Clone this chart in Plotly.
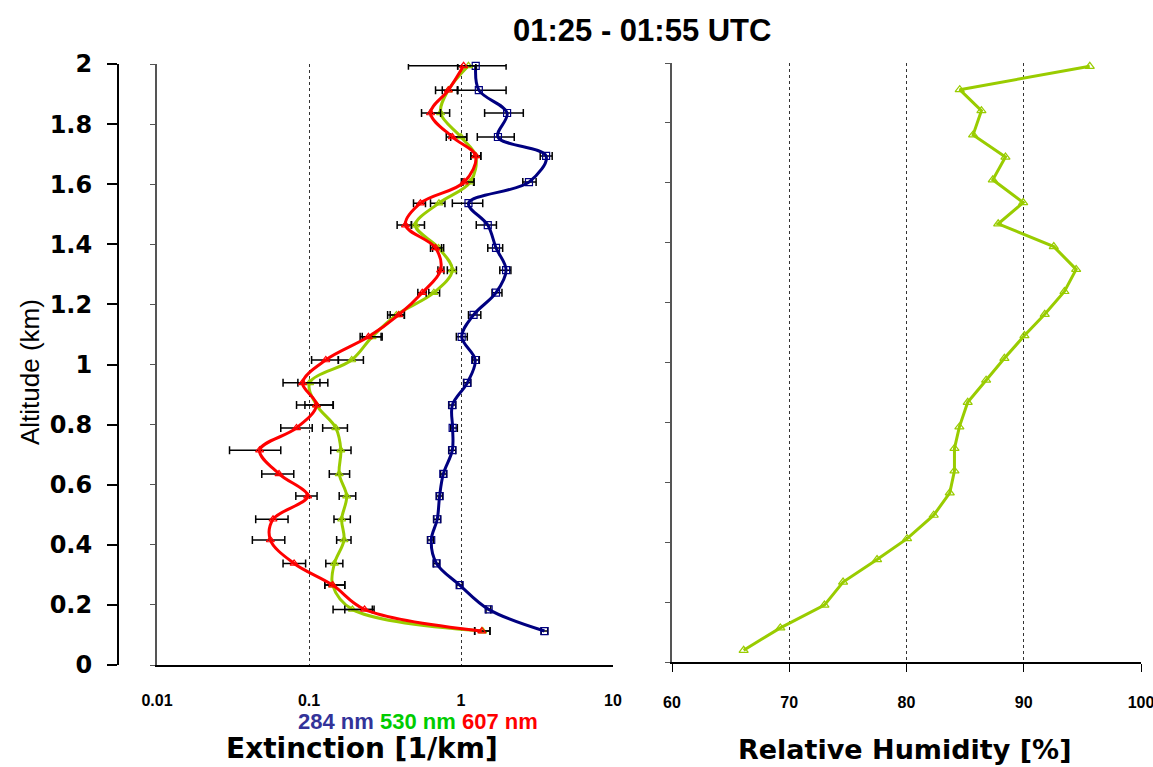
import plotly.graph_objects as go

# ---- Extinction profiles (left panel) ----
alt_ext = [0.113, 0.185, 0.266, 0.338, 0.416, 0.485, 0.562, 0.636, 0.715, 0.789,
           0.865, 0.939, 1.015, 1.092, 1.165, 1.239, 1.314, 1.388, 1.464, 1.537,
           1.607, 1.694, 1.757, 1.837, 1.913, 1.994]

ext_284 = [3.54, 1.52, 0.98, 0.69, 0.637, 0.698, 0.723, 0.765, 0.877, 0.881,
           0.877, 1.10, 1.24, 1.01, 1.21, 1.70, 1.98, 1.70, 1.50, 1.12,
           2.80, 3.63, 1.75, 2.01, 1.31, 1.25]
lo_284 = [3.37, 1.46, 0.937, 0.660, 0.602, 0.660, 0.690, 0.734, 0.830, 0.855,
          0.830, 1.04, 1.19, 0.932, 1.12, 1.60, 1.80, 1.50, 1.26, 0.877,
          2.55, 3.32, 1.28, 1.43, 0.951, 0.951]
hi_284 = [3.72, 1.57, 1.02, 0.723, 0.660, 0.734, 0.757, 0.804, 0.923, 0.946,
          0.923, 1.16, 1.32, 1.10, 1.35, 1.86, 2.13, 1.88, 1.71, 1.39,
          3.12, 3.98, 2.24, 2.57, 1.98, 1.98]

ext_530 = [1.39, 0.193, 0.143, 0.147, 0.170, 0.164, 0.177, 0.158, 0.162, 0.150,
           0.112, 0.101, 0.191, 0.260, 0.376, 0.663, 0.877, 0.712, 0.501, 0.716,
           1.15, 1.25, 1.00, 0.734, 0.826, 1.12]
lo_530 = [1.23, 0.144, 0.127, 0.129, 0.152, 0.146, 0.158, 0.136, 0.139, 0.123,
          0.094, 0.0845, 0.156, 0.224, 0.342, 0.614, 0.813, 0.650, 0.472, 0.630,
          1.03, 1.16, 0.855, 0.630, 0.753, 0.951]
hi_530 = [1.55, 0.261, 0.172, 0.167, 0.189, 0.187, 0.203, 0.185, 0.189, 0.179,
          0.144, 0.133, 0.228, 0.303, 0.424, 0.723, 0.933, 0.769, 0.575, 0.784,
          1.21, 1.35, 1.09, 0.842, 0.946, 1.25]

ext_607 = [1.37, 0.232, 0.143, 0.0798, 0.0557, 0.058, 0.098, 0.0635, 0.0473, 0.0828,
           0.112, 0.0907, 0.129, 0.246, 0.389, 0.556, 0.734, 0.680, 0.431, 0.541,
           1.05, 1.25, 0.877, 0.630, 0.826, 1.04]
lo_607 = [1.23, 0.172, 0.127, 0.0675, 0.0424, 0.0446, 0.0819, 0.0489, 0.030, 0.0652,
          0.0828, 0.0675, 0.104, 0.217, 0.329, 0.520, 0.705, 0.630, 0.380, 0.487,
          1.006, 1.16, 0.80, 0.55, 0.68, 0.451]
hi_607 = [1.55, 0.268, 0.172, 0.095, 0.0693, 0.0728, 0.113, 0.0794, 0.0652, 0.105,
          0.1445, 0.118, 0.156, 0.298, 0.424, 0.590, 0.772, 0.745, 0.472, 0.584,
          1.22, 1.35, 1.09, 0.734, 0.951, 1.25]

# ---- Relative humidity profile (right panel) ----
alt_rh = [0.039, 0.114, 0.190, 0.267, 0.342, 0.412, 0.490, 0.565, 0.638, 0.713,
          0.785, 0.867, 0.941, 1.014, 1.090, 1.161, 1.237, 1.311, 1.387, 1.463,
          1.534, 1.610, 1.686, 1.760, 1.841, 1.911, 1.989]
rh = [66.11, 69.24, 73.00, 74.59, 77.49, 80.05, 82.32, 83.69, 84.09, 84.09,
      84.51, 85.22, 86.79, 88.35, 90.06, 91.79, 93.47, 94.47, 92.56, 87.82,
      89.95, 87.36, 88.44, 85.68, 86.39, 84.54, 95.63]

# ---- Axis ticks ----
alt_ticks = [0, 0.2, 0.4, 0.6, 0.8, 1, 1.2, 1.4, 1.6, 1.8, 2]
alt_labels = ["0", "0.2", "0.4", "0.6", "0.8", "1", "1.2", "1.4", "1.6", "1.8", "2"]
ext_ticks = [0.01, 0.1, 1, 10]
ext_labels = ["0.01", "0.1", "1", "10"]
rh_ticks = [60, 70, 80, 90, 100]
rh_labels = ["60", "70", "80", "90", "100"]

W, H = 1153, 767
NARROW = "Liberation Sans Narrow, Arial Narrow, Liberation Sans, Arial"
SANS = "Liberation Sans, Arial, sans-serif"
WIDE = "DejaVu Sans, Liberation Sans, Arial"


def errs(val, lo, hi):
    plus = [h - v for v, h in zip(val, hi)]
    minus = [v - l for v, l in zip(val, lo)]
    return dict(type="data", symmetric=False, array=plus, arrayminus=minus,
                color="black", thickness=1.5, width=4)


fig = go.Figure()

series = [
    ("284 nm", ext_284, lo_284, hi_284, "#000080", "square-open"),
    ("530 nm", ext_530, lo_530, hi_530, "#99CC00", "triangle-up-open"),
    ("607 nm", ext_607, lo_607, hi_607, "#FF0000", "triangle-up-open"),
]
for name, val, lo, hi, col, sym in series:
    fig.add_trace(go.Scatter(
        x=val, y=alt_ext, name=name, mode="lines+markers",
        line=dict(color=col, width=3, shape="spline", smoothing=1.0),
        marker=dict(symbol=sym, size=7, color=col, line=dict(width=1.2, color=col)),
        error_x=errs(val, lo, hi),
        xaxis="x", yaxis="y", showlegend=False, cliponaxis=False,
    ))

fig.add_trace(go.Scatter(
    x=rh, y=alt_rh, name="RH", mode="lines+markers",
    line=dict(color="#99CC00", width=3),
    marker=dict(symbol="triangle-up-open", size=8, color="#99CC00",
                line=dict(width=1.2, color="#99CC00")),
    xaxis="x2", yaxis="y2", showlegend=False, cliponaxis=False,
))

# Altitude scale drawn on its own free axis left of the extinction panel
fig.add_trace(go.Scatter(
    x=[None], y=[None], xaxis="x", yaxis="y3", showlegend=False, hoverinfo="skip",
))

left_dom = [157 / W, 613 / W]
right_dom = [672 / W, 1141 / W]
yl_dom = [1 - 665 / H, 1 - 64 / H]
yr_dom = [1 - 662 / H, 1 - 63 / H]

tickfont_x = dict(family=NARROW, size=16, color="black", weight="bold")

fig.update_layout(
    width=W, height=H,
    margin=dict(l=0, r=0, t=0, b=0, pad=0, autoexpand=False),
    paper_bgcolor="white", plot_bgcolor="white",
    xaxis=dict(
        type="log", range=[-2, 1], domain=left_dom, anchor="y",
        showline=True, linecolor="black", linewidth=2,
        showgrid=True, gridcolor="#333333", gridwidth=1, griddash="dot",
        tickvals=ext_ticks, ticktext=ext_labels, ticks="",
        tickfont=tickfont_x, ticklabelstandoff=20, zeroline=False,
        automargin=False, ticklabeloverflow="allow",
    ),
    yaxis=dict(
        range=[0, 2], domain=yl_dom, anchor="x",
        showline=True, linecolor="#555555", linewidth=1.5,
        ticks="outside", ticklen=5, tickcolor="#555555",
        tickvals=alt_ticks, showticklabels=False,
        showgrid=False, zeroline=False, automargin=False,
    ),
    yaxis3=dict(
        range=[0, 2], domain=yl_dom, overlaying="y", anchor="free",
        position=118 / W, side="left",
        showline=True, linecolor="black", linewidth=2,
        ticks="outside", ticklen=10, tickcolor="black", tickwidth=1.5,
        tickvals=alt_ticks, ticktext=alt_labels,
        tickfont=dict(family=WIDE, size=24, color="black", weight="bold"),
        ticklabelstandoff=10, showgrid=False, zeroline=False, automargin=False,
    ),
    xaxis2=dict(
        range=[60, 100], domain=right_dom, anchor="y2",
        showline=True, linecolor="black", linewidth=2,
        ticks="outside", ticklen=8, tickcolor="black",
        showgrid=True, gridcolor="#333333", gridwidth=1, griddash="dot",
        tickvals=rh_ticks, ticktext=rh_labels,
        tickfont=tickfont_x, ticklabelstandoff=17, zeroline=False,
        automargin=False, ticklabeloverflow="allow",
    ),
    yaxis2=dict(
        range=[0, 2], domain=yr_dom, anchor="x2",
        showline=True, linecolor="#555555", linewidth=1.5,
        ticks="outside", ticklen=5, tickcolor="#555555",
        tickvals=alt_ticks, showticklabels=False,
        showgrid=False, zeroline=False, automargin=False,
    ),
)

annots = [
    dict(text="<b>01:25 - 01:55 UTC</b>", x=642 / W, y=1 - 30 / H,
         yanchor="middle", font=dict(family=SANS, size=31, color="black")),
    dict(text="Altitude (km)", x=30 / W, y=1 - 372 / H, textangle=-90,
         yanchor="middle", font=dict(family=SANS, size=26, color="black")),
    dict(text="<b><span style='color:#333399'>284 nm</span> "
              "<span style='color:#00CC00'>530 nm</span> "
              "<span style='color:#FF0000'>607 nm</span></b>",
         x=418 / W, y=1 - 735 / H, yanchor="bottom",
         font=dict(family=SANS, size=22)),
    dict(text="<b>Extinction [1/km]</b>", x=362 / W, y=1 - 766 / H,
         yanchor="bottom", font=dict(family=WIDE, size=28, color="black")),
    dict(text="<b>Relative Humidity [%]</b>", x=904 / W, y=1 - 766 / H,
         yanchor="bottom", font=dict(family=WIDE, size=27, color="black")),
]
for a in annots:
    fig.add_annotation(xref="paper", yref="paper", showarrow=False,
                       xanchor="center", borderpad=0, **a)

fig.write_html("out.html")
